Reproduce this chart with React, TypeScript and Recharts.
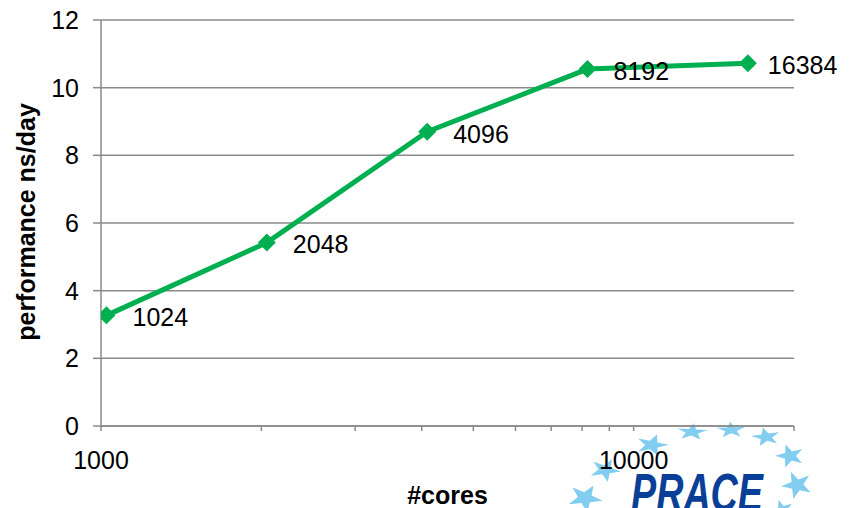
import React from 'react';
import {
  LineChart,
  Line,
  XAxis,
  YAxis,
  CartesianGrid,
  LabelList,
  Label,
} from 'recharts';

// values
const cores = [1024, 2048, 4096, 8192, 16384];
const performance = [3.27, 5.42, 8.7, 10.55, 10.72];
const xTicks = [1000, 2000, 3000, 4000, 5000, 6000, 7000, 8000, 9000, 10000, 20000];
const xTickLabels = [1000, 10000];
const yTicks = [0, 2, 4, 6, 8, 10, 12];

const data = cores.map((c, i) => ({ cores: c, perf: performance[i] }));

const FONT = '"Liberation Sans", Arial, sans-serif';
const GREEN = '#00b050';
const GRID = '#8a8a8a';

const Diamond = (props: any) => {
  const { cx, cy, index } = props;
  if (cx == null || cy == null) return null;
  const s = 9;
  return (
    <path
      key={`d-${index}`}
      d={`M${cx},${cy - s}L${cx + s},${cy}L${cx},${cy + s}L${cx - s},${cy}Z`}
      fill={GREEN}
    />
  );
};

const renderPointLabel = (props: any) => {
  const { x, y, value, index } = props;
  // last label sits a bit closer to its marker in the original
  const dx = index === cores.length - 1 ? 20 : 26;
  return (
    <text key={`l-${index}`} x={x + dx} y={y + 2} dy="0.355em" fontSize={25} fontFamily={FONT} fill="#000">
      {value}
    </text>
  );
};

// PRACE logo decoration (stars in an arc + wordmark)
const star = (cx: number, cy: number, R: number, rot: number, sy: number) => {
  const pts: string[] = [];
  for (let i = 0; i < 10; i++) {
    const r = i % 2 === 0 ? R : R * 0.4;
    const a = (Math.PI / 5) * i - Math.PI / 2 + rot;
    const px = r * Math.cos(a);
    const py = r * Math.sin(a) * sy;
    pts.push(`${(cx + px).toFixed(1)},${(cy + py).toFixed(1)}`);
  }
  return pts.join(' ');
};

const logoStars = [
  { x: 652, y: 445, r: 17, rot: 0.3, sy: 0.65 },
  { x: 692, y: 432, r: 16, rot: 0.1, sy: 0.55 },
  { x: 731, y: 430, r: 15, rot: -0.05, sy: 0.55 },
  { x: 766, y: 437, r: 15, rot: -0.2, sy: 0.65 },
  { x: 790, y: 456, r: 15, rot: -0.3, sy: 0.8 },
  { x: 797, y: 485, r: 16, rot: -0.4, sy: 0.9 },
  { x: 605, y: 470, r: 16, rot: 0.45, sy: 0.75 },
  { x: 585, y: 498, r: 18, rot: 0.5, sy: 0.8 },
  { x: 782, y: 510, r: 12, rot: -0.3, sy: 0.9 },
];

const PraceLogo = () => (
  <svg width={850} height={508} style={{ position: 'absolute', left: 0, top: 0, pointerEvents: 'none' }}>
    {logoStars.map((s, i) => (
      <polygon key={i} points={star(s.x, s.y, s.r, s.rot, s.sy)} fill="#82cdf0" />
    ))}
    <text
      x={631}
      y={511}
      fontSize={54}
      fontWeight="bold"
      fontStyle="italic"
      fontFamily={FONT}
      fill="#0a3f98"
      textLength={132}
      lengthAdjust="spacingAndGlyphs"
    >
      PRACE
    </text>
  </svg>
);

const App: React.FC = () => {
  return (
    <div style={{ position: 'fixed', left: 0, top: 0, width: 850, height: 508, background: '#fff', fontFamily: FONT }}>
      <PraceLogo />
      <div style={{ position: 'absolute', left: 0, top: 0 }}>
        <LineChart
          width={850}
          height={508}
          data={data}
          margin={{ top: 20, right: 56, bottom: 0, left: 0 }}
        >
          <CartesianGrid vertical={false} stroke={GRID} strokeWidth={1.5} />
          <XAxis
            dataKey="cores"
            type="number"
            scale="log"
            domain={[1000, 20000]}
            ticks={xTicks}
            allowDataOverflow
            height={82}
            stroke={GRID}
            strokeWidth={1.5}
            tickSize={5}
            tickMargin={20}
            tick={{ fill: '#000', fontSize: 25, fontFamily: FONT }}
            tickFormatter={(v: number) => (xTickLabels.includes(v) ? String(v) : '')}
            interval={0}
          >
            <Label
              content={({ viewBox }: any) => (
                <text
                  x={viewBox.x + viewBox.width / 2}
                  y={viewBox.y + 78}
                  textAnchor="middle"
                  fontSize={25}
                  fontWeight="bold"
                  fontFamily={FONT}
                  fill="#000"
                >
                  #cores
                </text>
              )}
            />
          </XAxis>
          <YAxis
            type="number"
            domain={[0, 12]}
            ticks={yTicks}
            width={101}
            stroke={GRID}
            strokeWidth={1.5}
            tickSize={8}
            tickMargin={14}
            tick={{ fill: '#000', fontSize: 25, fontFamily: FONT }}
            interval={0}
          >
            <Label
              content={({ viewBox }: any) => {
                const cx = viewBox.x + 35;
                const cy = viewBox.y + viewBox.height / 2 - 1;
                return (
                  <text
                    x={cx}
                    y={cy}
                    transform={`rotate(-90, ${cx}, ${cy})`}
                    textAnchor="middle"
                    fontSize={25}
                    fontWeight="bold"
                    fontFamily={FONT}
                    fill="#000"
                  >
                    performance ns/day
                  </text>
                );
              }}
            />
          </YAxis>
          <Line
            type="linear"
            dataKey="perf"
            stroke={GREEN}
            strokeWidth={5}
            dot={Diamond}
            activeDot={false}
            isAnimationActive={false}
          >
            <LabelList dataKey="cores" content={renderPointLabel} />
          </Line>
        </LineChart>
      </div>
    </div>
  );
};

export default App;
